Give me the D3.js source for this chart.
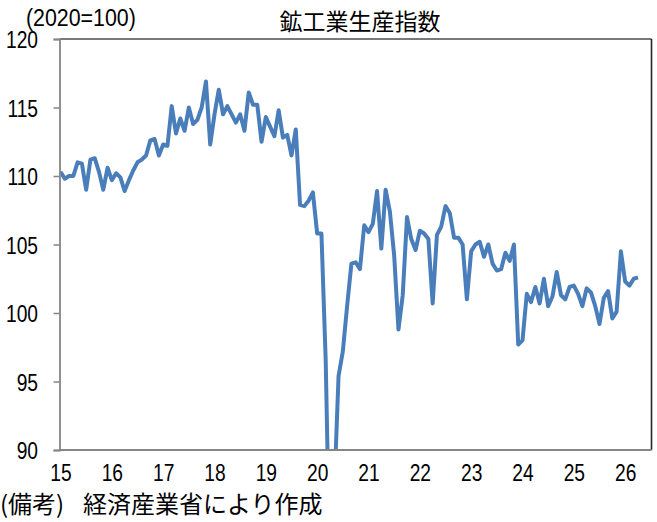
<!DOCTYPE html>
<html><head><meta charset="utf-8">
<script src="https://cdn.jsdelivr.net/npm/d3@7"></script>
<style>
html,body{margin:0;padding:0;background:#fff;}
svg{display:block;}
</style></head>
<body>
<svg id="c" width="657" height="522"></svg>
<script>
// Monthly index values (2020=100), first month at first year tick
const values = [
110.3,109.8,110.0,110.0,111.0,110.9,109.0,111.2,111.3,110.3,109.0,110.6,
109.7,110.2,109.9,108.9,109.7,110.4,111.0,111.2,111.5,112.6,112.7,111.5,
112.3,112.2,115.1,113.1,114.2,113.3,115.0,113.8,114.1,115.0,116.9,112.3,
114.5,116.3,114.5,115.1,114.5,113.9,114.5,113.3,116.1,115.2,115.2,112.5,
114.3,113.6,112.9,114.8,112.8,113.0,111.5,113.4,107.9,107.8,108.2,108.8,
105.8,105.8,96.5,80.5,87.0,95.4,97.2,100.5,103.6,103.7,103.2,106.4,
105.9,106.5,108.9,104.7,109.0,107.4,104.2,98.8,101.3,107.0,105.4,104.6,
106.0,105.8,105.4,100.7,105.7,106.3,107.8,107.3,105.5,105.5,105.0,101.0,
104.5,105.0,105.2,104.1,105.0,103.6,103.1,103.2,104.4,103.8,105.0,97.7,
98.0,101.4,100.8,101.9,100.7,102.5,100.5,101.2,103.0,101.3,101.0,101.9,
102.0,101.4,100.5,101.8,101.5,100.5,99.2,101.1,101.6,99.6,100.1,104.5,
102.3,102.0,102.5,102.6
];
const yearLabels = ['15','16','17','18','19','20','21','22','23','24','25','26'];
const yTicks = [90,95,100,105,110,115,120];
const titleText = '鉱工業生産指数';
const unitText = '(2020=100)';
const noteHead = '(備考)';
const noteBody = '経済産業省により作成';

const svg = d3.select('#c');
const L = 59.5, R = 651.5, T = 39, B = 450;
const numFont = "'Liberation Sans',Arial,sans-serif";
const cjkFont = "'Noto Sans CJK JP','Noto Sans',sans-serif";
const sx = 0.8; // horizontal condensing of numeric labels

const x = d3.scaleLinear().domain([0, 135]).range([60.5, 638]);
const y = d3.scaleLinear().domain([90, 120]).range([B, T]);

svg.append('defs').append('clipPath').attr('id','clip')
  .append('rect').attr('x', L).attr('y', T).attr('width', R - L).attr('height', B - T);

// borders: top and right dark
svg.append('line').attr('x1', L).attr('x2', R).attr('y1', T).attr('y2', T)
  .attr('stroke', '#4d4d4d').attr('stroke-width', 1.6);
svg.append('line').attr('x1', R).attr('x2', R).attr('y1', T).attr('y2', B)
  .attr('stroke', '#262626').attr('stroke-width', 1.6);

// line
const line = d3.line().x((d, i) => x(i)).y(d => y(d));
svg.append('path').datum(values)
  .attr('clip-path', 'url(#clip)')
  .attr('d', line)
  .attr('fill', 'none')
  .attr('stroke', '#4a7ebb')
  .attr('stroke-width', 4)
  .attr('stroke-linejoin', 'round');

// y axis
const yAxis = d3.axisLeft(y).tickValues(yTicks).tickSize(6).tickPadding(3).tickFormat(d3.format('d'));
const gy = svg.append('g').attr('transform', `translate(${L},0)`).call(yAxis);
gy.select('.domain').attr('stroke', '#868686').attr('stroke-width', 1.8);
gy.selectAll('.tick line').attr('stroke', '#868686').attr('stroke-width', 1.5);
gy.selectAll('.tick text').attr('font-family', numFont).attr('font-size', 24)
  .attr('fill', '#000').attr('x', -21.5 / sx).attr('dy', '0.36em')
  .attr('transform', `scale(${sx},1)`);

// x axis (bottom line + year labels)
const xAxis = d3.axisBottom(x).tickValues(yearLabels.map((d, i) => i * 12))
  .tickFormat((d, i) => yearLabels[i]).tickSize(0).tickPadding(14);
const gx = svg.append('g').attr('transform', `translate(0,${B})`).call(xAxis);
gx.select('.domain').attr('d', `M${L},0H${R}`).attr('stroke', '#868686').attr('stroke-width', 1.8);
gx.selectAll('.tick text').attr('font-family', numFont).attr('font-size', 24).attr('fill', '#000')
  .attr('transform', `scale(${sx},1)`);

// title
svg.append('text').attr('x', 360).attr('y', 30).attr('text-anchor', 'middle')
  .attr('font-family', cjkFont).attr('font-size', 23).attr('fill', '#000').text(titleText);
// unit
svg.append('text').attr('transform', 'translate(26,26) scale(0.89,1)')
  .attr('font-family', numFont).attr('font-size', 24).attr('fill', '#000').text(unitText);
// note
const note = svg.append('text').attr('y', 513).attr('font-family', cjkFont).attr('font-size', 24).attr('fill', '#000');
note.append('tspan').attr('x', 0).text(noteHead);
note.append('tspan').attr('x', 83).text(noteBody);
</script>
</body></html>
